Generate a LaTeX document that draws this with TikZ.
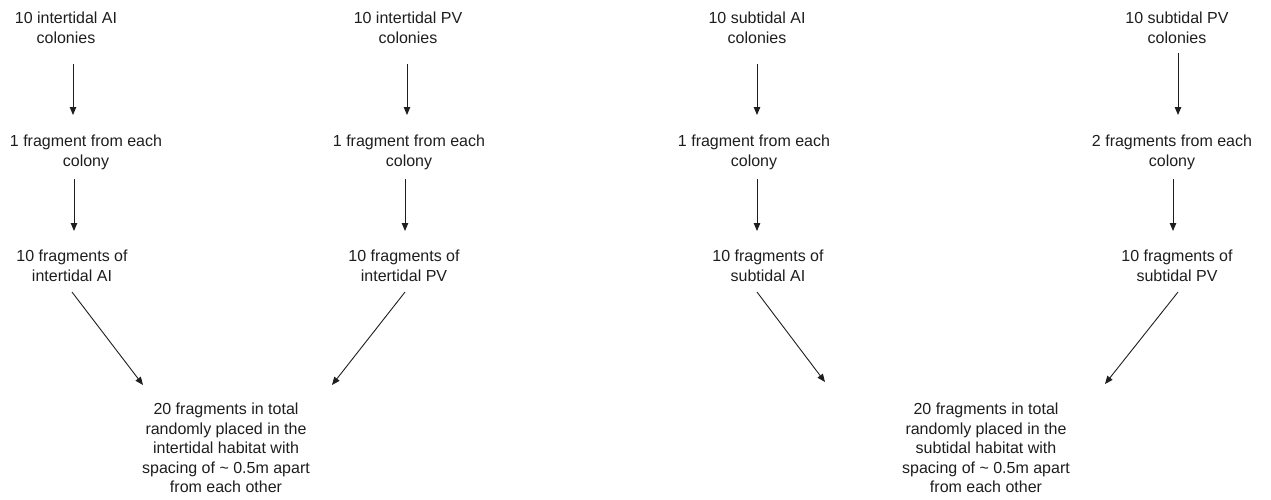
\documentclass[tikz,border=0pt]{standalone}
\usepackage{fontspec}
\setmainfont{Liberation Sans}
\usetikzlibrary{arrows.meta}
\definecolor{ink}{HTML}{1E1E1E}
\tikzset{
  lbl/.style={anchor=north, align=center, inner sep=0pt, outer sep=0pt,
    text=ink, font=\fontsize{16}{19.5}\selectfont},
  arr/.style={draw=ink, line width=0.9pt,
    -{Triangle[length=8pt,width=6.5pt]}}
}
\begin{document}
\begin{tikzpicture}[x=1pt,y=-1pt]
\path[use as bounding box] (0,0) rectangle (1271,499);

% intertidal AI column
\node[lbl] (A1) at (66,12)  {10 intertidal AI\\colonies};
\node[lbl] (A2) at (86,135) {1 fragment from each\\colony};
\node[lbl] (A3) at (72,250) {10 fragments of\\intertidal AI};
% intertidal PV column
\node[lbl] (B1) at (408,12)  {10 intertidal PV\\colonies};
\node[lbl] (B2) at (409,135) {1 fragment from each\\colony};
\node[lbl] (B3) at (404,250) {10 fragments of\\intertidal PV};
% subtidal AI column
\node[lbl] (C1) at (757,12)  {10 subtidal AI\\colonies};
\node[lbl] (C2) at (754,135) {1 fragment from each\\colony};
\node[lbl] (C3) at (768,250) {10 fragments of\\subtidal AI};
% subtidal PV column
\node[lbl] (D1) at (1177,12)  {10 subtidal PV\\colonies};
\node[lbl] (D2) at (1172,135) {2 fragments from each\\colony};
\node[lbl] (D3) at (1177,250) {10 fragments of\\subtidal PV};
% pooled fragments per habitat
\node[lbl] (E1) at (226,403) {20 fragments in total\\randomly placed in the\\intertidal habitat with\\spacing of \char"7E{} 0.5m apart\\from each other};
\node[lbl] (E2) at (986,403) {20 fragments in total\\randomly placed in the\\subtidal habitat with\\spacing of \char"7E{} 0.5m apart\\from each other};

% colonies -> fragments taken
\draw[arr] ([xshift=7pt,yshift=-20.8pt]A1.south) -- ([xshift=-13pt,yshift=20pt]A2.north);
\draw[arr] ([xshift=-1pt,yshift=-20.8pt]B1.south) -- ([xshift=-2pt,yshift=20pt]B2.north);
\draw[arr] ([xshift=0pt,yshift=-20.8pt]C1.south) -- ([xshift=3pt,yshift=20pt]C2.north);
\draw[arr] ([xshift=1pt,yshift=-9.8pt]D1.south) -- ([xshift=6pt,yshift=20pt]D2.north);
% fragments taken -> fragment counts
\draw[arr] ([xshift=-12pt,yshift=-9.4pt]A2.south) -- ([xshift=2pt,yshift=19pt]A3.north);
\draw[arr] ([xshift=-4pt,yshift=-9.4pt]B2.south) -- ([xshift=1pt,yshift=19pt]B3.north);
\draw[arr] ([xshift=3pt,yshift=-9.4pt]C2.south) -- ([xshift=-11pt,yshift=19pt]C3.north);
\draw[arr] ([xshift=1pt,yshift=-9.4pt]D2.south) -- ([xshift=-4pt,yshift=19pt]D3.north);
% fragment counts -> habitat placement
\draw[arr] ([yshift=-10.8pt]A3.south) -- ([xshift=-83pt,yshift=18pt]E1.north);
\draw[arr] ([xshift=1pt,yshift=-10.8pt]B3.south) -- ([xshift=106pt,yshift=18pt]E1.north);
\draw[arr] ([xshift=-11pt,yshift=-10.8pt]C3.south) -- ([xshift=-161pt,yshift=21pt]E2.north);
\draw[arr] ([xshift=1pt,yshift=-10.8pt]D3.south) -- ([xshift=119pt,yshift=19pt]E2.north);
\end{tikzpicture}
\end{document}
